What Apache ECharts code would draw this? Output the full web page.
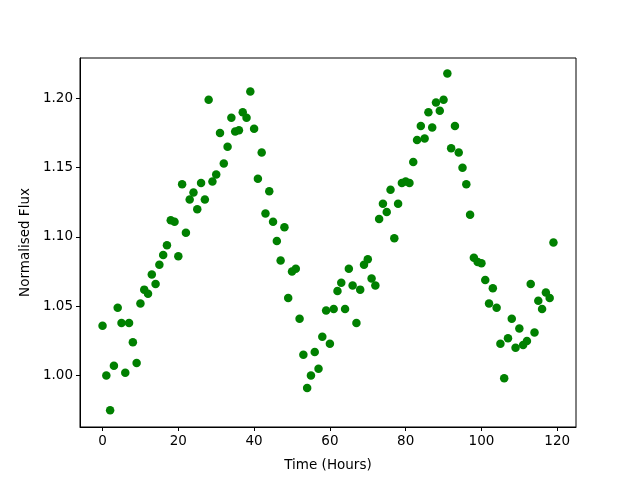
<!DOCTYPE html>
<html>
<head>
<meta charset="utf-8">
<script src="https://cdn.jsdelivr.net/npm/echarts@6/dist/echarts.min.js"></script>
<style>html,body{margin:0;padding:0;background:#fff}#c{width:640px;height:480px}</style>
</head>
<body>
<div id="c"></div>
<script>
const hours = [];
for (let i = 0; i < 120; i++) hours.push(i);
const flux = [
1.036,1.000,0.975,1.007,1.049,1.038,1.002,1.038,1.024,1.009,
1.052,1.062,1.059,1.073,1.066,1.080,1.087,1.094,1.112,1.111,
1.086,1.138,1.103,1.127,1.132,1.120,1.139,1.127,1.199,1.140,
1.145,1.175,1.153,1.165,1.186,1.176,1.177,1.190,1.186,1.205,
1.178,1.142,1.161,1.117,1.133,1.111,1.097,1.083,1.107,1.056,
1.075,1.077,1.041,1.015,0.991,1.000,1.017,1.005,1.028,1.047,
1.023,1.048,1.061,1.067,1.048,1.077,1.065,1.038,1.062,1.080,
1.084,1.070,1.065,1.113,1.124,1.118,1.134,1.099,1.124,1.139,
1.140,1.139,1.154,1.170,1.180,1.171,1.190,1.179,1.197,1.191,
1.199,1.218,1.164,1.180,1.161,1.150,1.138,1.116,1.085,1.082,
1.081,1.069,1.052,1.063,1.049,1.023,0.998,1.027,1.041,1.020,
1.034,1.022,1.025,1.066,1.031,1.054,1.048,1.060,1.056,1.096
];
const xTicks = [0,20,40,60,80,100,120];
const yTicks = [1.00,1.05,1.10,1.15,1.20];

const data = hours.map((h,i)=>[h, flux[i]]);
const font = 'DejaVu Sans';
const chart = echarts.init(document.getElementById('c'), null, {renderer:'canvas'});
chart.setOption({
  animation:false,
  grid:{left:80,right:64,top:58,bottom:53,show:true,borderColor:'#000',borderWidth:1,backgroundColor:'transparent'},
  xAxis:{
    type:'value', min:-5.95, max:124.95,
    name:'Time (Hours)', nameLocation:'middle', nameGap:31,
    nameTextStyle:{fontFamily:font,fontSize:13.5,color:'#000'},
    axisLine:{show:true,onZero:false,lineStyle:{color:'#000',width:1}},
    axisTick:{show:true,length:4,lineStyle:{color:'#000'},customValues:xTicks},
    axisLabel:{fontFamily:font,fontSize:13.5,color:'#000',margin:7,customValues:xTicks},
    splitLine:{show:false}
  },
  yAxis:{
    type:'value', min:0.9629, max:1.2291,
    name:'Normalised Flux', nameLocation:'middle', nameGap:47,
    nameTextStyle:{fontFamily:font,fontSize:13.5,color:'#000'},
    axisLine:{show:true,onZero:false,lineStyle:{color:'#000',width:1}},
    axisTick:{show:true,length:4,lineStyle:{color:'#000'},customValues:yTicks},
    axisLabel:{fontFamily:font,fontSize:13.5,color:'#000',margin:7,customValues:yTicks,
      formatter:v=>v.toFixed(2)},
    splitLine:{show:false}
  },
  series:[{
    type:'scatter', data:data, symbol:'circle', symbolSize:8.5,
    itemStyle:{color:'#008000',opacity:1}
  }]
});
</script>
</body>
</html>
